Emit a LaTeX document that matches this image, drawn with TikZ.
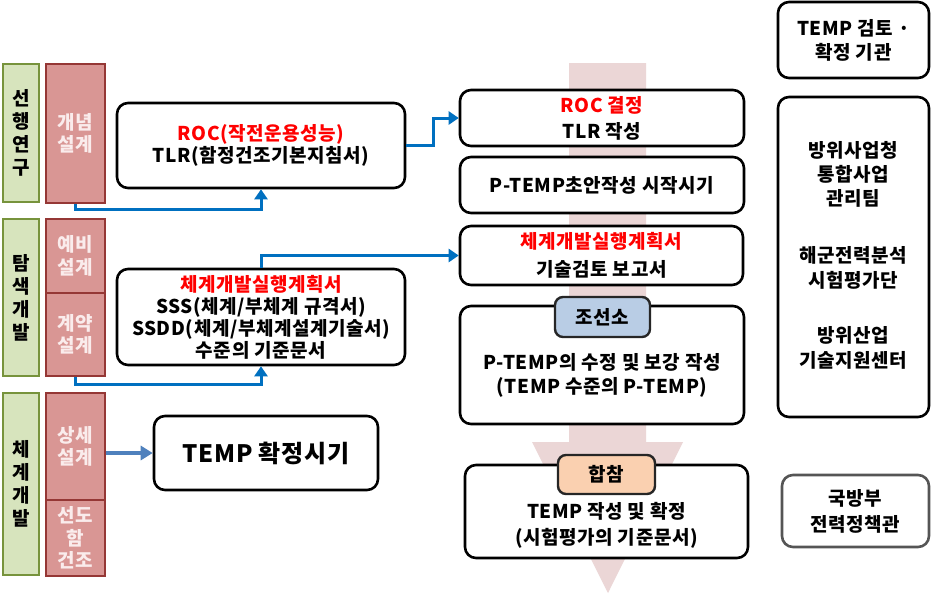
\documentclass[tikz,border=0pt]{standalone}
\usepackage{fontspec}
\setmainfont{Noto Sans CJK KR}[LetterSpace=3]
\usetikzlibrary{arrows.meta,calc}
\definecolor{connblue}{RGB}{0,112,192}
\definecolor{stblue}{RGB}{79,129,189}
\definecolor{redfill}{RGB}{217,150,148}
\definecolor{redline}{RGB}{149,55,53}
\definecolor{greenfill}{RGB}{215,228,189}
\definecolor{greenline}{RGB}{119,147,60}
\definecolor{pinkarrow}{RGB}{235,214,214}
\definecolor{tagblue}{RGB}{185,205,229}
\definecolor{tagpeach}{RGB}{250,208,176}
\definecolor{txtred}{RGB}{255,0,0}
\definecolor{redtext}{RGB}{250,236,236}
\definecolor{greyline}{RGB}{85,85,85}
\begin{document}
\begin{tikzpicture}[x=1pt,y=-1pt,
 every node/.style={font=\fontsize{19}{22}\selectfont\bfseries, inner sep=0pt, align=center},
 rbox/.style={draw=black, line width=2.6pt, rounded corners=11pt, fill=white},
 gbox/.style={draw=greenline, fill=greenfill, line width=2pt, font=\fontsize{19}{23}\selectfont\bfseries},
 pbox/.style={draw=redline, fill=redfill, line width=2.6pt, text=redtext, font=\fontsize{19}{22.5}\selectfont\bfseries},
 tagbox/.style={draw=black!85, line width=2.4pt, rounded corners=8pt},
 conn/.style={draw=connblue, line width=3pt, -{Triangle[length=10pt,width=13pt]}},
 conn2/.style={draw=stblue, line width=3.5pt, -{Triangle[length=12pt,width=14pt]}},
]
\useasboundingbox (0,0) rectangle (931,595);
\fill[white] (0,0) rectangle (931,595);

% background arrow
\fill[pinkarrow] (569,63) -- (646,63) -- (646,442) -- (683,442) -- (608,593) -- (532,442) -- (569,442) -- cycle;

% left column
\node[gbox, minimum width=36pt, minimum height=138pt] (g1) at (21,133) {선\\행\\연\\구};
\node[gbox, minimum width=36pt, minimum height=157pt] (g2) at (21,297.5) {탐\\색\\개\\발};
\node[gbox, minimum width=36pt, minimum height=182pt] (g3) at (21,484) {체\\계\\개\\발};

\node[pbox, minimum width=59pt, minimum height=139pt] (r1) at (75.5,133.5) {개념\\설계};
\node[pbox, minimum width=59pt, minimum height=74pt] (r2) at (75.5,256) {예비\\설계};
\node[pbox, minimum width=59pt, minimum height=83pt] (r3) at (75.5,334.5) {계약\\설계};
\node[pbox, minimum width=59pt, minimum height=107pt] (r4) at (75.5,446.5) {상세\\설계};
\node[pbox, minimum width=59pt, minimum height=76pt] (r5) at (75.5,538) {선도\\함\\건조};

\node[rbox, minimum width=288pt, minimum height=85pt] (roc) at (261,145.5)
  {{\color{txtred}ROC(작전운용성능)}\\TLR(함정건조기본지침서)};
\node[rbox, minimum width=288pt, minimum height=96pt] (sss) at (261,317)
  {{\color{txtred}체계개발실행계획서}\\SSS(체계/부체계 규격서)\\SSDD(체계/부체계설계기술서)\\수준의 기준문서};
\node[rbox, minimum width=224pt, minimum height=74pt, font=\fontsize{24}{30}\selectfont\bfseries] (tempk) at (266,453) {TEMP 확정시기};

% middle column
\node[rbox, minimum width=284pt, minimum height=56pt, font=\fontsize{19}{26}\selectfont\bfseries] (m1) at (602,118)
  {{\color{txtred}ROC 결정}\\TLR 작성};
\node[rbox, minimum width=284pt, minimum height=56pt] (m2) at (602,185) {P-TEMP초안작성 시작시기};
\node[rbox, minimum width=283pt, minimum height=59pt, font=\fontsize{19}{28}\selectfont\bfseries] (m3) at (601.5,255.5)
  {{\color{txtred}체계개발실행계획서}\\기술검토 보고서};
\node[rbox, minimum width=284pt, minimum height=118pt] (m4) at (602,365) {};
\node[font=\fontsize{19}{24}\selectfont\bfseries] (m4t) at (602,375) {P-TEMP의 수정 및 보강 작성\\(TEMP 수준의 P-TEMP)};
\node[tagbox, fill=tagblue, minimum width=95pt, minimum height=40pt] (tag1) at (602.5,317) {조선소};
\node[rbox, minimum width=283pt, minimum height=93pt] (m5) at (606.5,511.5) {};
\node[font=\fontsize{19}{26}\selectfont\bfseries] (m5t) at (606.5,525) {TEMP 작성 및 확정\\(시험평가의 기준문서)};
\node[tagbox, fill=tagpeach, minimum width=97pt, minimum height=39pt] (tag2) at (606.5,474.5) {합참};

% right column
\node[rbox, minimum width=151pt, minimum height=76pt, font=\fontsize{19}{24}\selectfont\bfseries] (rt1) at (853.5,40) {TEMP 검토 ·\\확정 기관};
\node[rbox, minimum width=151pt, minimum height=320pt] (rt2) at (853.5,257) {};
\node[font=\fontsize{19}{24}\selectfont\bfseries] (rt2a) at (853.5,174) {방위사업청\\통합사업\\관리팀};
\node[font=\fontsize{19}{25}\selectfont\bfseries] (rt2b) at (853.5,267.5) {해군전력분석\\시험평가단};
\node[font=\fontsize{19}{25}\selectfont\bfseries] (rt2c) at (853.5,347.5) {방위산업\\기술지원센터};
\node[rbox, draw=greyline, minimum width=147pt, minimum height=72pt, font=\fontsize{19}{26}\selectfont\bfseries] (rt3) at (855.5,511) {국방부\\전력정책관};

% connectors
\coordinate (c1) at (261,209);
\coordinate (c2) at (261,384);
\draw[conn] (r1.south) |- (c1) -- (roc.south);
\draw[conn] (roc.east) -- ++(27,0) |- (m1.west);
\draw[conn] (sss.north) |- (m3.west);
\draw[conn] (r3.south) |- (c2) -- (sss.south);
\draw[conn2] (r4.east |- tempk.west) -- (tempk.west);
\end{tikzpicture}
\end{document}
